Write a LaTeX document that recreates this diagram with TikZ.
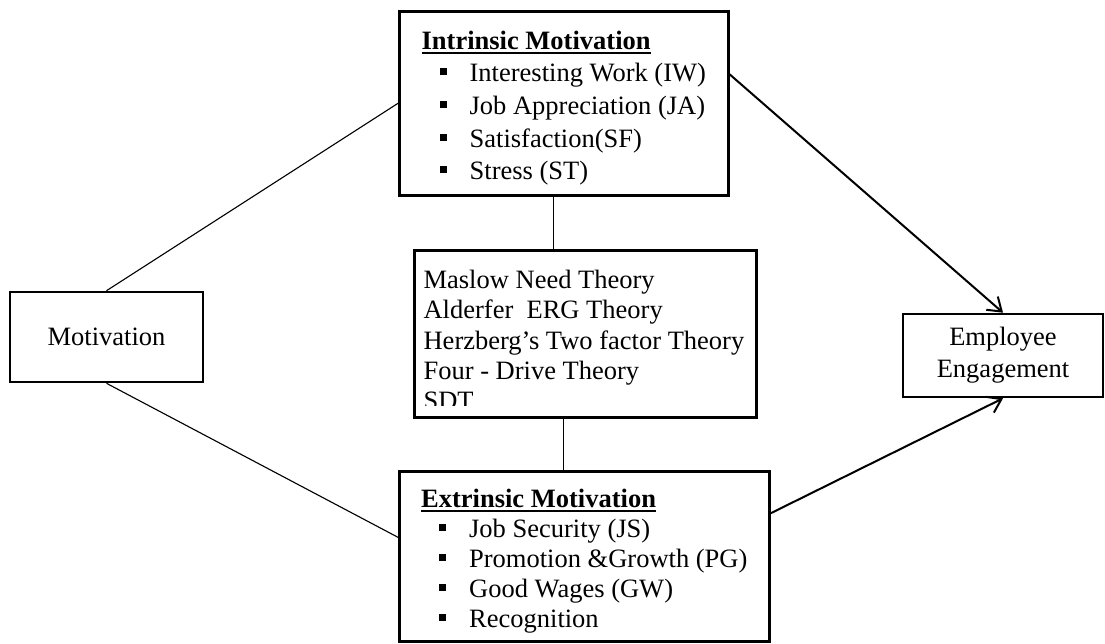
\documentclass[tikz,border=0pt]{standalone}
\usepackage{fontspec}
\setmainfont{Liberation Serif}
\usetikzlibrary{positioning, arrows.meta, calc}

\newcommand{\uhead}[1]{\rule{0pt}{7mm}\sbox0{\textbf{#1}}\rlap{\usebox0}\rule[-1.2mm]{\wd0}{0.5mm}}
\newcommand{\sqitem}[1]{\hspace*{4.5mm}\rule[1.6mm]{1.75mm}{1.75mm}\hspace{5.75mm}#1}

\begin{document}
\begin{tikzpicture}[
    x=0.25mm, y=-0.25mm,
    box/.style={rectangle, draw=black, line width=0.65mm, fill=white, inner sep=0pt, align=center, font=\fontsize{18.85pt}{22.8pt}\selectfont},
    listbox/.style={box, anchor=north west, align=left},
    link/.style={draw=black, line width=0.28mm},
    arrow/.style={-{Straight Barb[length=3.2mm, width=4.4mm]}, draw=black, line width=0.5mm}
]
\useasboundingbox (0,0) rectangle (1105,643);

% Boxes
\node[box, minimum width=48.25mm, minimum height=22.5mm] (motiv) at (106.5,337) {Motivation};
\node[listbox, minimum width=82.25mm, minimum height=46mm, font=\fontsize{18.85pt}{23.25pt}\selectfont] (intrinsic) at (398,10)
    {\uhead{Intrinsic Motivation}\\
     \sqitem{Interesting Work (IW)}\\
     \sqitem{Job Appreciation (JA)}\\
     \sqitem{Satisfaction(SF)}\\
     \sqitem{Stress (ST)}};
% theory list runs past the bottom of its box and is cut there
\node[listbox, minimum width=85.5mm, minimum height=41.75mm,
    path picture={
        \clip (path picture bounding box.north west) rectangle ([yshift=2.875mm]path picture bounding box.south east);
        \node[anchor=north west, inner sep=0pt, minimum width=0pt, minimum height=0pt, draw=none, fill=none, align=left, font=\fontsize{18.85pt}{21.5pt}\selectfont]
            at ([xshift=2mm, yshift=-2.25mm]path picture bounding box.north west)
            {\rule{0pt}{7mm}Maslow Need Theory\\
             Alderfer~ ERG Theory\\
             Herzberg’s Two factor Theory\\
             Four - Drive Theory\\
             SDT};
    }] (theory) at (413,249) {};
\node[listbox, minimum width=92.5mm, minimum height=42.5mm, font=\fontsize{18.85pt}{21.3pt}\selectfont] (extrinsic) at (398,470)
    {\uhead{Extrinsic Motivation}\\
     \sqitem{Job Security (JS)}\\
     \sqitem{Promotion \&Growth (PG)}\\
     \sqitem{Good Wages (GW)}\\
     \sqitem{Recognition}};
\node[box, minimum width=50mm, minimum height=20.75mm] (engage) at (1003,355.5) {Employee\\Engagement};

% Links from motivation
\draw[link] (motiv.north) -- (intrinsic.west);
\draw[link] (motiv.south) -- ($(extrinsic.west)+(0,-19)$);

% Links to the theories
\draw[link] ($(intrinsic.south)+(-10,0)$) coordinate (t1) -- (t1 |- theory.north);
\draw[link] ($(extrinsic.north)+(-21,0)$) coordinate (b1) -- (b1 |- theory.south);

% Arrows to engagement
\draw[arrow] ($(intrinsic.east)+(0,-29)$) -- (engage.north);
\draw[arrow] ($(extrinsic.east)+(0,-43)$) -- (engage.south);

\end{tikzpicture}
\end{document}
